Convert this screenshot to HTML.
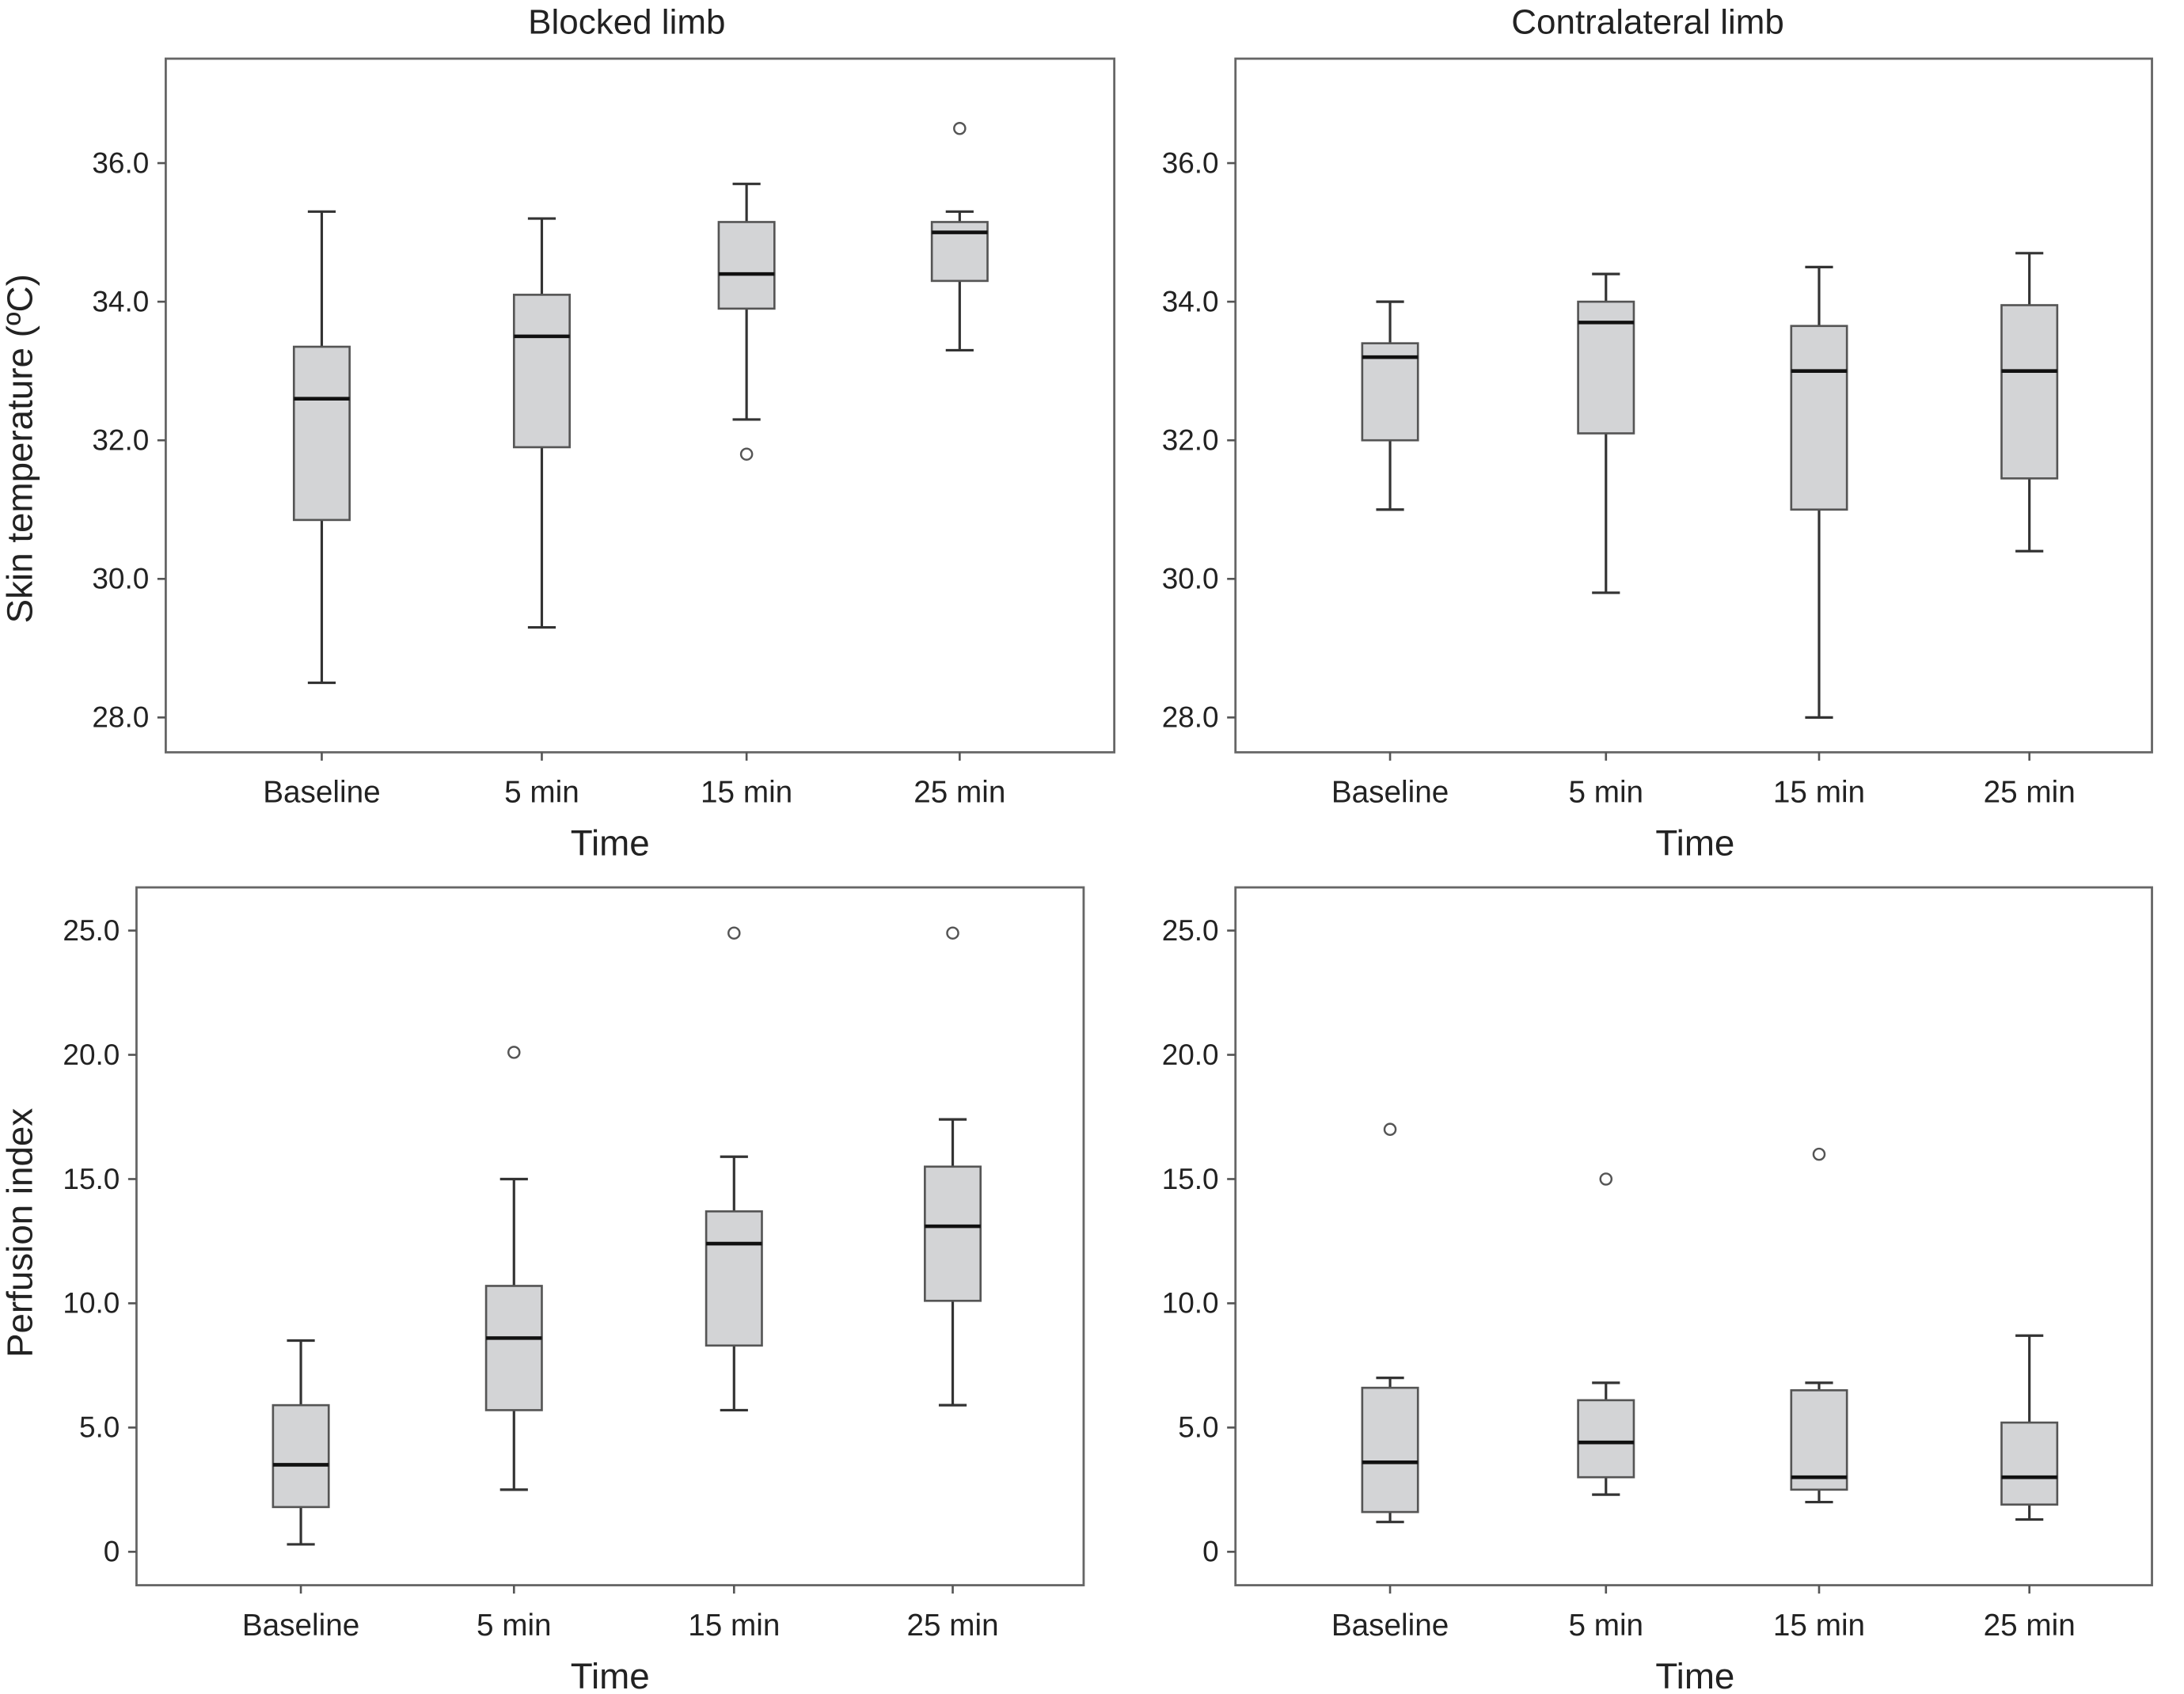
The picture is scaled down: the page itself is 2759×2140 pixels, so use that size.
<!DOCTYPE html>
<html><head><meta charset="utf-8"><style>
html,body{margin:0;padding:0;background:#fff}
svg{display:block}
text{font-family:"Liberation Sans",Arial,sans-serif;fill:#222}
</style></head><body>
<svg id="chart" width="2759" height="2140" viewBox="0 0 1568 1216" xmlns="http://www.w3.org/2000/svg"></svg>
<script>
const categories = ["Baseline","5 min","15 min","25 min"];
// Skin temperature blocked limb: [min, q1, median, q3, max]
const tempBlockedMin = [28.5, 29.3, 32.3, 33.3];
const tempBlockedQ1 = [30.85, 31.9, 33.9, 34.3];
const tempBlockedMed = [32.6, 33.5, 34.4, 35.0];
const tempBlockedQ3 = [33.35, 34.1, 35.15, 35.15];
const tempBlockedMax = [35.3, 35.2, 35.7, 35.3];
const tempBlockedOut = [[], [], [31.8], [36.5]];
const tempContraMin = [31.0, 29.8, 28.0, 30.4];
const tempContraQ1 = [32.0, 32.1, 31.0, 31.45];
const tempContraMed = [33.2, 33.7, 33.0, 33.0];
const tempContraQ3 = [33.4, 34.0, 33.65, 33.95];
const tempContraMax = [34.0, 34.4, 34.5, 34.7];
const tempContraOut = [[], [], [], []];
const piBlockedMin = [0.3, 2.5, 5.7, 5.9];
const piBlockedQ1 = [1.8, 5.7, 8.3, 10.1];
const piBlockedMed = [3.5, 8.6, 12.4, 13.1];
const piBlockedQ3 = [5.9, 10.7, 13.7, 15.5];
const piBlockedMax = [8.5, 15.0, 15.9, 17.4];
const piBlockedOut = [[], [20.1], [24.9], [24.9]];
const piContraMin = [1.2, 2.3, 2.0, 1.3];
const piContraQ1 = [1.6, 3.0, 2.5, 1.9];
const piContraMed = [3.6, 4.4, 3.0, 3.0];
const piContraQ3 = [6.6, 6.1, 6.5, 5.2];
const piContraMax = [7.0, 6.8, 6.8, 8.7];
const piContraOut = [[17.0], [15.0], [16.0], []];
const tempTicks = [28, 30, 32, 34, 36];
const piTicks = [0, 5, 10, 15, 20, 25];

const svg = document.getElementById('chart');
const NS = 'http://www.w3.org/2000/svg';
function mk(tag, attrs, parent, name) {
  const e = document.createElementNS(NS, tag);
  for (const k in attrs) e.setAttribute(k, attrs[k]);
  
  
  (parent || svg).appendChild(e);
  return e;
}
function panel(cfg) {
  const g = mk('g', {}, svg, cfg.name);
  const {x0, x1, y0, y1, vA, yA, vB, yB} = cfg;
  const ys = v => yA + (v - vA) * (yB - yA) / (vB - vA);
  mk('rect', {x:x0, y:y0, width:x1-x0, height:y1-y0, fill:'none', stroke:'#666', 'stroke-width':1.6}, g, 'plot-frame');
  cfg.ticks.forEach(t => {
    const y = ys(t);
    mk('line', {x1:x0-6, x2:x0, y1:y, y2:y, stroke:'#555', 'stroke-width':1.5}, g, 'y-tick');
    const tx = mk('text', {x:x0-12, y:y+7, 'font-size':21, 'text-anchor':'end'}, g, 'y-tick-label');
    tx.textContent = t === 0 ? '0' : t.toFixed(1);
  });
  categories.forEach((c, i) => {
    const cx = cfg.cx[i];
    mk('line', {x1:cx, x2:cx, y1:y1, y2:y1+6, stroke:'#555', 'stroke-width':1.5}, g, 'x-tick');
    const tx = mk('text', {x:cx, y:y1+36, 'font-size':22, 'text-anchor':'middle'}, g, 'x-tick-label');
    tx.textContent = c;
    const bw = 40;
    mk('line', {x1:cx, x2:cx, y1:ys(cfg.max[i]), y2:ys(cfg.q3[i]), stroke:'#333', 'stroke-width':1.8}, g, 'upper-whisker');
    mk('line', {x1:cx, x2:cx, y1:ys(cfg.q1[i]), y2:ys(cfg.min[i]), stroke:'#333', 'stroke-width':1.8}, g, 'lower-whisker');
    mk('line', {x1:cx-10, x2:cx+10, y1:ys(cfg.max[i]), y2:ys(cfg.max[i]), stroke:'#333', 'stroke-width':1.8}, g, 'max-cap');
    mk('line', {x1:cx-10, x2:cx+10, y1:ys(cfg.min[i]), y2:ys(cfg.min[i]), stroke:'#333', 'stroke-width':1.8}, g, 'min-cap');
    mk('rect', {x:cx-bw/2, y:ys(cfg.q3[i]), width:bw, height:ys(cfg.q1[i])-ys(cfg.q3[i]), fill:'#d3d4d6', stroke:'#555', 'stroke-width':1.5}, g, 'box-' + i);
    mk('line', {x1:cx-bw/2, x2:cx+bw/2, y1:ys(cfg.med[i]), y2:ys(cfg.med[i]), stroke:'#111', 'stroke-width':2.6}, g, 'median-line');
    cfg.out[i].forEach(o => {
      mk('circle', {cx:cx, cy:ys(o), r:4, fill:'#fff', stroke:'#555', 'stroke-width':1.4}, g, 'outlier-point');
    });
  });
  const t = mk('text', {x:cfg.timeX, y:y1+74, 'font-size':26, 'text-anchor':'middle'}, g, 'x-axis-title');
  t.textContent = 'Time';
}
panel({name:'blocked-temp-panel', x0:119, x1:800, y0:42, y1:540, vA:36, yA:117, vB:28, yB:515, ticks:tempTicks, cx:[231,389,536,689], timeX:438,
  min:tempBlockedMin, q1:tempBlockedQ1, med:tempBlockedMed, q3:tempBlockedQ3, max:tempBlockedMax, out:tempBlockedOut});
panel({name:'contra-temp-panel', x0:887, x1:1545, y0:42, y1:540, vA:36, yA:117, vB:28, yB:515, ticks:tempTicks, cx:[998,1153,1306,1457], timeX:1217,
  min:tempContraMin, q1:tempContraQ1, med:tempContraMed, q3:tempContraQ3, max:tempContraMax, out:tempContraOut});
panel({name:'blocked-pi-panel', x0:98, x1:778, y0:637, y1:1138, vA:25, yA:668, vB:0, yB:1114, ticks:piTicks, cx:[216,369,527,684], timeX:438,
  min:piBlockedMin, q1:piBlockedQ1, med:piBlockedMed, q3:piBlockedQ3, max:piBlockedMax, out:piBlockedOut});
panel({name:'contra-pi-panel', x0:887, x1:1545, y0:637, y1:1138, vA:25, yA:668, vB:0, yB:1114, ticks:piTicks, cx:[998,1153,1306,1457], timeX:1217,
  min:piContraMin, q1:piContraQ1, med:piContraMed, q3:piContraQ3, max:piContraMax, out:piContraOut});

let e;
e = mk('text', {x:450, y:24, 'font-size':25, 'text-anchor':'middle'}, svg, 'blocked-limb-title'); e.textContent = 'Blocked limb';
e = mk('text', {x:1183, y:24, 'font-size':25, 'text-anchor':'middle'}, svg, 'contralateral-limb-title'); e.textContent = 'Contralateral limb';
e = mk('text', {x:0, y:0, 'font-size':26, 'text-anchor':'middle', transform:'translate(23,322) rotate(-90)'}, svg, 'skin-temperature-y-title'); e.textContent = 'Skin temperature (ºC)';
e = mk('text', {x:0, y:0, 'font-size':26, 'text-anchor':'middle', transform:'translate(23,885) rotate(-90)'}, svg, 'perfusion-index-y-title'); e.textContent = 'Perfusion index';
</script>
</body></html>
